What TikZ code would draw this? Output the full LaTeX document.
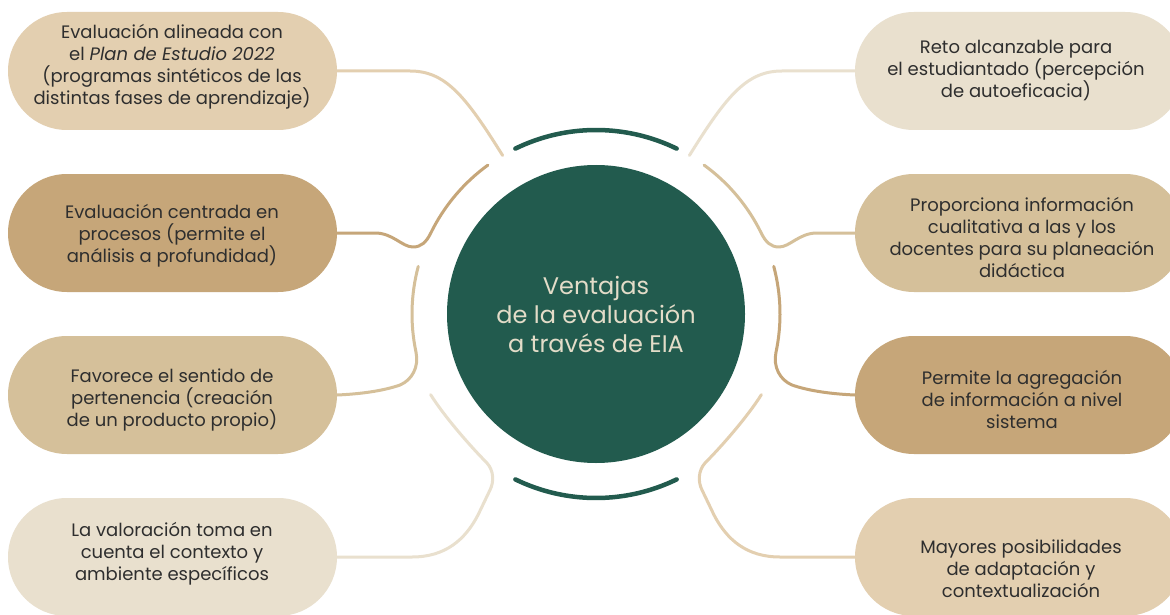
\documentclass[tikz,border=0pt]{standalone}
\usepackage{fontspec}
\setmainfont{Poppins}
\usetikzlibrary{calc}
\definecolor{cLightest}{HTML}{E9E0CE}
\definecolor{cLight}{HTML}{E3CFB0}
\definecolor{cMed}{HTML}{D5C09A}
\definecolor{cDark}{HTML}{C6A679}
\definecolor{eiagreen}{HTML}{225B4E}
\definecolor{ctext}{HTML}{E3DCC8}
\definecolor{textc}{HTML}{2E2E2E}
\begin{document}
\begin{tikzpicture}[x=1pt,y=-1pt,
  pill/.style={rounded corners=58.9pt, minimum width=329pt, minimum height=118pt, inner sep=0pt},
  txt/.style={align=center, font=\fontsize{18}{22}\selectfont, text=textc, inner sep=0pt},
  conn/.style={line width=3pt, line cap=round, line join=round},
  greenarc/.style={line width=4.5pt, draw=eiagreen, line cap=round}]
\useasboundingbox (0,0) rectangle (1170,615);
\fill[white] (0,0) rectangle (1170,615);
\clip (0,0) rectangle (1170,615);

% boxes
\node[pill, fill=cLight]    (b1) at (172.5,71)  {};
\node[pill, fill=cDark]     (b2) at (172.5,233) {};
\node[pill, fill=cMed]      (b3) at (172.5,395) {};
\node[pill, fill=cLightest] (b4) at (172.5,557) {};
\node[pill, fill=cLightest] (b5) at (1019.5,71)  {};
\node[pill, fill=cMed]      (b6) at (1019.5,233) {};
\node[pill, fill=cDark]     (b7) at (1019.5,395) {};
\node[pill, fill=cLight]    (b8) at (1019.5,557) {};

% texts
\node[txt] (t1) at (172,67)  {Evaluación alineada con\\el \textit{Plan de Estudio 2022}\\(programas sintéticos de las\\distintas fases de aprendizaje)};
\node[txt] (t2) at (172,236) {Evaluación centrada en\\procesos (permite el\\análisis a profundidad)};
\node[txt] (t3) at (172,400) {Favorece el sentido de\\pertenencia (creación\\de un producto propio)};
\node[txt] (t4) at (172,554) {La valoración toma en\\cuenta el contexto y\\ambiente específicos};
\node[txt] (t5) at (1016,71)  {Reto alcanzable para\\el estudiantado (percepción\\de autoeficacia)};
\node[txt] (t6) at (1022,237) {Proporciona información\\cualitativa a las y los\\docentes para su planeación\\didáctica};
\node[txt] (t7) at (1022,399) {Permite la agregación\\de información a nivel\\sistema};
\node[txt] (t8) at (1021,569) {Mayores posibilidades\\de adaptación y\\contextualización};

% centre
\node[circle, fill=eiagreen, minimum size=298pt, inner sep=0pt, align=center,
      text=ctext, font=\fontsize{24}{29}\selectfont] (c) at (596,314)
      {Ventajas\\de la evaluación\\a través de EIA};

\draw[greenarc] ($(c.center)+(244:184)$) arc[start angle=244, end angle=296, radius=184];
\draw[greenarc] ($(c.center)+(64:184)$) arc[start angle=64, end angle=116, radius=184];

% connector end points
\coordinate (l1e) at ($(c.center)+(239.5:184)$);
\coordinate (l2a) at ($(c.center)+(206:184)$);
\coordinate (l3a) at ($(c.center)+(168:184)$);
\coordinate (l4e) at ($(c.center)+(154:184)$);
\coordinate (r1e) at ($(c.center)+(-59.5:184)$);
\coordinate (r2a) at ($(c.center)+(-26:184)$);
\coordinate (r3a) at ($(c.center)+(12:184)$);
\coordinate (r4e) at ($(c.center)+(26:184)$);

% left connectors
\draw[conn, draw=cLight] (b1.east) -- (410,71) .. controls (445,71) and (465,95) .. (l1e);
\draw[conn, draw=cDark] (b2.east) -- (375,233) .. controls (393,233) and (402,247) .. (413,247)
   .. controls (421,247) and (426.2,242.3) .. (l2a) arc[start angle=206, end angle=234, radius=184];
\draw[conn, draw=cMed] (b3.east) .. controls (360,394) and (383,391) .. (400,385)
   .. controls (412,380) and (419.1,367) .. (l3a) arc[start angle=168, end angle=195, radius=184];
\draw[conn, draw=cLightest] (b4.east) -- (412,557) .. controls (445,557) and (465,540) .. (478,515)
   -- (490,490) .. controls (494,482) and (494,471) .. (487,463)
   .. controls (470,446) and (444,416) .. (l4e);

% right connectors
\draw[conn, draw=cLightest] (b5.west) -- (782,71) .. controls (747,71) and (727,95) .. (r1e);
\draw[conn, draw=cMed] (b6.west) -- (817,233) .. controls (799,233) and (790,247) .. (779,247)
   .. controls (771,247) and (765.8,242.3) .. (r2a) arc[start angle=-26, end angle=-54, radius=184];
\draw[conn, draw=cDark] (b7.west) .. controls (832,394) and (809,391) .. (792,385)
   .. controls (780,380) and (772.9,367) .. (r3a) arc[start angle=12, end angle=-15, radius=184];
\draw[conn, draw=cLight] (b8.west) -- (780,557) .. controls (747,557) and (727,540) .. (714,515)
   -- (702,490) .. controls (698,482) and (698,471) .. (705,463)
   .. controls (722,446) and (748,416) .. (r4e);
\end{tikzpicture}
\end{document}
